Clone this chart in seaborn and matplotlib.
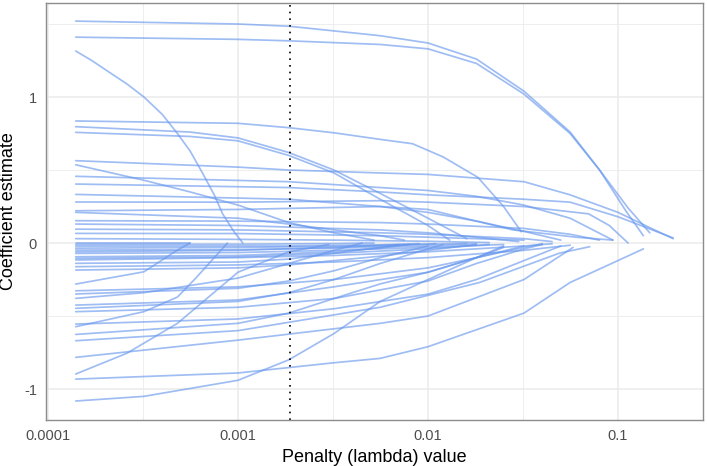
"""Lasso coefficient paths: coefficient estimate against penalty (lambda) value."""

import matplotlib

matplotlib.use("Agg")
import matplotlib.pyplot as plt
import matplotlib.ticker as mticker
import pandas as pd
import seaborn as sns

# Selected lambda (dotted reference line)
LAMBDA_SELECTED = 0.00188

# Coefficient paths as (lambda, coefficient) points.
# Large positive paths
paths_upper = [
    [(1.4e-4, 1.52), (1e-3, 1.50), (1.85e-3, 1.485), (5.6e-3, 1.42), (0.01, 1.37), (0.018, 1.26),
     (0.032, 1.04), (0.056, 0.76), (0.08, 0.50), (0.11, 0.22), (0.136, 0.05)],
    [(1.4e-4, 1.41), (1e-3, 1.395), (1.85e-3, 1.385), (5.6e-3, 1.36), (0.01, 1.33), (0.018, 1.23),
     (0.032, 1.02), (0.056, 0.75), (0.08, 0.50), (0.113, 0.24), (0.147, 0.07)],
    [(1.4e-4, 1.315), (1.7e-4, 1.25), (2.1e-4, 1.17), (2.6e-4, 1.09), (3.2e-4, 1.0), (4e-4, 0.88),
     (4.8e-4, 0.75), (5.6e-4, 0.63), (6.5e-4, 0.48), (7.5e-4, 0.33), (8.3e-4, 0.2), (9.5e-4, 0.08),
     (1.06e-3, 0.0)],
    [(1.4e-4, 0.836), (1e-3, 0.82), (1.85e-3, 0.79), (3.2e-3, 0.755), (5.6e-3, 0.71), (8.3e-3, 0.68),
     (0.012, 0.59), (0.0183, 0.45), (0.025, 0.25), (0.031, 0.077)],
    [(1.4e-4, 0.797), (5.6e-4, 0.76), (1e-3, 0.72), (1.85e-3, 0.62), (3.2e-3, 0.50), (5.6e-3, 0.34),
     (0.01, 0.17), (0.016, 0.03)],
    [(1.4e-4, 0.758), (5.6e-4, 0.73), (1e-3, 0.70), (1.85e-3, 0.60), (3.2e-3, 0.48), (5.6e-3, 0.30),
     (0.01, 0.12), (0.013, 0.02)],
]

# Moderate positive paths
paths_mid = [
    [(1.4e-4, 0.564), (1e-3, 0.52), (1.85e-3, 0.50), (5.6e-3, 0.48), (0.01, 0.47), (0.032, 0.42),
     (0.056, 0.33), (0.1, 0.21), (0.15, 0.10), (0.195, 0.03)],
    [(1.4e-4, 0.536), (3.2e-4, 0.43), (5.6e-4, 0.35), (1e-3, 0.26), (1.85e-3, 0.14), (3.2e-3, 0.07),
     (5.2e-3, 0.02)],
    [(1.4e-4, 0.457), (1.85e-3, 0.42), (5.6e-3, 0.38), (0.01, 0.36), (0.018, 0.32), (0.032, 0.26),
     (0.056, 0.17), (0.094, 0.02)],
    [(1.4e-4, 0.404), (1.85e-3, 0.38), (5.6e-3, 0.35), (0.01, 0.33), (0.032, 0.30), (0.056, 0.28),
     (0.1, 0.18), (0.195, 0.035)],
    [(1.4e-4, 0.333), (1.85e-3, 0.30), (5.6e-3, 0.25), (0.01, 0.21), (0.018, 0.15), (0.032, 0.08),
     (0.05, 0.02)],
    [(1.4e-4, 0.281), (1e-3, 0.28), (5.6e-3, 0.29), (0.01, 0.28), (0.032, 0.25), (0.07, 0.20),
     (0.09, 0.12), (0.113, 0.0)],
    [(1.4e-4, 0.221), (1e-3, 0.23), (5.6e-3, 0.25), (0.01, 0.23), (0.028, 0.09), (0.06, 0.04),
     (0.094, 0.02)],
    [(1.4e-4, 0.21), (1e-3, 0.17), (1.85e-3, 0.13), (5.6e-3, 0.05), (7.5e-3, 0.02)],
    [(1.4e-4, 0.153), (1e-3, 0.15), (5.6e-3, 0.14), (0.01, 0.13), (0.032, 0.10), (0.056, 0.06),
     (0.08, 0.02)],
    [(1.4e-4, 0.130), (1e-3, 0.12), (5.6e-3, 0.09), (0.01, 0.07), (0.018, 0.04), (0.03, 0.01)],
    [(1.4e-4, 0.095), (1e-3, 0.09), (5.6e-3, 0.07), (0.01, 0.06), (0.032, 0.03), (0.045, 0.01)],
    [(1.4e-4, 0.066), (1e-3, 0.065), (5.6e-3, 0.05), (0.01, 0.04), (0.032, 0.02)],
    [(1.4e-4, 0.03), (1e-3, 0.025), (3.2e-3, 0.02), (0.01, 0.012), (0.021, 0.003)],
]

# Paths close to zero
paths_small = [
    [(1.4e-4, 0.0), (5.6e-4, 0.0)],
    [(1.4e-4, -0.01), (1e-3, -0.008), (3.2e-3, -0.004), (5.2e-3, 0.0)],
    [(1.4e-4, -0.021), (1.85e-3, -0.02), (5.6e-3, -0.012), (9e-3, -0.004)],
    [(1.4e-4, -0.035), (1e-3, -0.03), (5.6e-3, -0.02), (0.011, -0.005)],
    [(1.4e-4, -0.048), (1e-3, -0.045), (3.2e-3, -0.035), (0.01, -0.02), (0.018, -0.005)],
    [(1.4e-4, -0.06), (1e-3, -0.05), (3.2e-3, -0.03), (5.6e-3, -0.015), (0.016, -0.003)],
    [(1.4e-4, -0.071), (1e-3, -0.065), (3.2e-3, -0.05), (0.01, -0.03), (0.025, -0.01)],
    [(1.4e-4, -0.094), (1e-3, -0.085), (3.2e-3, -0.06), (5.6e-3, -0.035), (8e-3, -0.01)],
    [(1.4e-4, -0.105), (1e-3, -0.095), (3.2e-3, -0.07), (0.01, -0.04), (0.021, -0.01)],
    [(1.4e-4, -0.116), (1e-3, -0.10), (3.2e-3, -0.085), (0.01, -0.06), (0.032, -0.02), (0.045, -0.005)],
    [(1.4e-4, -0.139), (1e-3, -0.13), (1.85e-3, -0.11), (3.2e-3, -0.07), (5.6e-3, -0.03), (7e-3, -0.01)],
    [(1.4e-4, -0.162), (1e-3, -0.15), (3.2e-3, -0.13), (0.01, -0.10), (0.032, -0.05), (0.056, -0.015)],
    [(1.4e-4, -0.185), (1e-3, -0.17), (1.85e-3, -0.15), (5.6e-3, -0.09), (0.01, -0.05), (0.018, -0.01)],
    [(1.4e-4, -0.281), (3.2e-4, -0.197), (4.8e-4, -0.048), (5.6e-4, 0.0)],
]

# Negative paths
paths_lower = [
    [(1.4e-4, -0.327), (1e-3, -0.30), (3.2e-3, -0.25), (0.01, -0.17), (0.018, -0.10), (0.032, -0.03),
     (0.04, -0.005)],
    [(1.4e-4, -0.349), (1e-3, -0.31), (1.85e-3, -0.26), (3.2e-3, -0.19), (5.6e-3, -0.10), (0.01, -0.02)],
    [(1.4e-4, -0.379), (3.2e-4, -0.34), (1e-3, -0.24), (1.85e-3, -0.14), (3.2e-3, -0.05), (4.5e-3, 0.0)],
    [(1.4e-4, -0.425), (1e-3, -0.39), (3.2e-3, -0.30), (0.01, -0.20), (0.018, -0.10), (0.025, -0.03)],
    [(1.4e-4, -0.447), (1e-3, -0.40), (1.85e-3, -0.34), (3.2e-3, -0.25), (5.6e-3, -0.14), (0.01, -0.04),
     (0.012, -0.01)],
    [(1.4e-4, -0.47), (1e-3, -0.44), (3.2e-3, -0.38), (0.01, -0.26), (0.018, -0.14), (0.032, -0.04),
     (0.04, -0.01)],
    [(1.4e-4, -0.555), (1e-3, -0.52), (3.2e-3, -0.45), (0.01, -0.35), (0.018, -0.25), (0.032, -0.12),
     (0.05, -0.02)],
    [(1.4e-4, -0.573), (3.2e-4, -0.47), (4.8e-4, -0.37), (6e-4, -0.24), (7.5e-4, -0.10), (8.8e-4, 0.0)],
    [(1.4e-4, -0.626), (1e-3, -0.55), (1.85e-3, -0.48), (3.2e-3, -0.38), (5.6e-3, -0.28), (0.01, -0.20),
     (0.018, -0.10), (0.032, -0.02)],
    [(1.4e-4, -0.669), (1e-3, -0.60), (5.6e-3, -0.44), (0.0187, -0.27), (0.049, -0.07), (0.071, -0.025)],
    [(1.4e-4, -0.783), (1e-3, -0.665), (5.6e-3, -0.55), (0.01, -0.50), (0.032, -0.25), (0.058, -0.03)],
    [(1.4e-4, -0.897), (2.6e-4, -0.755), (4.8e-4, -0.55), (1e-3, -0.20), (1.85e-3, -0.06), (3e-3, -0.01)],
    [(1.4e-4, -0.932), (1e-3, -0.89), (3.2e-3, -0.82), (5.6e-3, -0.79), (0.01, -0.71), (0.032, -0.48),
     (0.056, -0.27), (0.1, -0.12), (0.136, -0.04)],
    [(1.4e-4, -1.082), (3.2e-4, -1.05), (1e-3, -0.94), (1.85e-3, -0.80), (3.2e-3, -0.62), (5.6e-3, -0.40),
     (0.01, -0.25), (0.018, -0.10), (0.025, -0.02)],
]

X_TICKS = [1e-4, 1e-3, 1e-2, 1e-1]
X_TICK_LABELS = ["0.0001", "0.001", "0.01", "0.1"]
Y_TICKS = [-1, 0, 1]


def build_frame() -> pd.DataFrame:
    rows = []
    path_id = 0
    for group in (paths_upper, paths_mid, paths_small, paths_lower):
        for path in group:
            for lam, coef in path:
                rows.append({"path": path_id, "lam": lam, "coef": coef})
            path_id += 1
    return pd.DataFrame(rows)


def main() -> None:
    df = build_frame()

    sns.set_style("white")
    plt.rcParams["font.family"] = ["Liberation Sans", "DejaVu Sans"]

    fig = plt.figure(figsize=(7.07, 4.66), dpi=100)
    ax = fig.add_axes([46 / 707, 1 - 420 / 466, 657 / 707, 417 / 466])

    ax.set_xscale("log")
    ax.set_xlim(10 ** -4.0105, 10 ** -0.5526)
    ax.set_ylim(-1.212, 1.644)

    # grid: major and minor (half-decade / half-unit)
    for v in [10 ** -3.5, 10 ** -2.5, 10 ** -1.5, 10 ** -0.5]:
        ax.axvline(v, color="#ebebeb", lw=0.6, zorder=0)
    for v in [-0.5, 0.5, 1.5]:
        ax.axhline(v, color="#ebebeb", lw=0.6, zorder=0)
    for v in X_TICKS:
        ax.axvline(v, color="#ebebeb", lw=1.1, zorder=0)
    for v in Y_TICKS:
        ax.axhline(v, color="#ebebeb", lw=1.1, zorder=0)

    sns.lineplot(
        data=df, x="lam", y="coef", units="path", estimator=None, sort=False,
        color="#6495ED", alpha=0.62, linewidth=1.25, ax=ax, legend=False,
    )

    ax.axvline(LAMBDA_SELECTED, color="black", linestyle=(0, (1, 3)), linewidth=1.2)

    ax.xaxis.set_major_locator(mticker.FixedLocator(X_TICKS))
    ax.xaxis.set_major_formatter(mticker.FixedFormatter(X_TICK_LABELS))
    ax.xaxis.set_minor_locator(mticker.NullLocator())
    ax.set_yticks(Y_TICKS)
    ax.set_yticklabels(["-1", "0", "1"])

    ax.tick_params(axis="both", which="major", length=3.5, width=0.9, color="#333333",
                   labelcolor="#4d4d4d", labelsize=10.5, pad=3)
    for spine in ax.spines.values():
        spine.set_color("#8c8c8c")
        spine.set_linewidth(1.0)

    ax.set_xlabel("Penalty (lambda) value", fontsize=13, color="black", labelpad=4)
    ax.set_ylabel("Coefficient estimate", fontsize=13, color="black", labelpad=5)

    fig.savefig("out.png", dpi=100)
    plt.close(fig)


if __name__ == "__main__":
    main()
